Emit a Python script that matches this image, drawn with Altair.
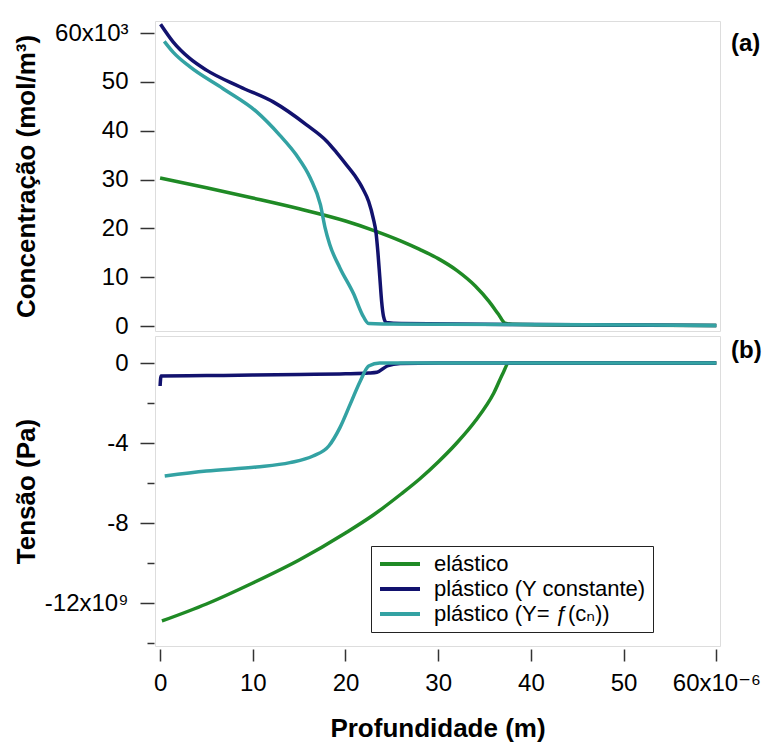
import altair as alt
import pandas as pd

FONT = "Liberation Sans, Arial, DejaVu Sans, sans-serif"

# ---------------- data ----------------
series_names = ["elástico", "plástico (Y constante)", "plástico (Y= ƒ(cₙ))"]
series_colors = ["#1f8a25", "#12126e", "#33a2a3"]
panel_labels = ["(a)", "(b)"]

x_ticks = [0, 10, 20, 30, 40, 50, 60]
conc_ticks = [0, 10, 20, 30, 40, 50, 60]
stress_ticks = [0, -2, -4, -6, -8, -10, -12, -14]

# (a) concentration, units of 10^3 mol/m3 ; depth in 10^-6 m
conc_el_x = [0.0, 5.0, 10.0, 15.0, 20.0, 23.0, 26.0, 28.0, 30.0, 32.0, 34.0, 35.5, 36.5, 37.2, 38.0, 45.0, 60.0]
conc_el_y = [30.3, 28.3, 26.2, 24.0, 21.5, 19.6, 17.4, 15.7, 13.8, 11.4, 8.2, 5.0, 2.4, 0.6, 0.35, 0.2, 0.1]

conc_pc_x = [0.05, 1.4, 3.2, 5.0, 8.6, 12.2, 15.8, 18.0, 19.0, 20.1, 21.0, 21.9, 22.5, 23.0, 23.3,
             23.5, 23.7, 23.9, 24.1, 24.4, 26.0, 40.0, 60.0]
conc_pc_y = [61.8, 58.2, 54.8, 52.4, 49.0, 45.9, 41.2, 37.8, 35.6, 33.0, 30.8, 28.0, 25.5, 22.0, 19.0,
             15.0, 10.0, 5.0, 2.0, 0.7, 0.5, 0.3, 0.1]

conc_pf_x = [0.45, 1.4, 3.2, 6.8, 10.4, 12.9, 14.7, 16.2, 17.3, 17.8, 18.3, 19.4, 20.9, 21.8, 22.5, 24.0, 40.0, 60.0]
conc_pf_y = [58.3, 56.1, 53.1, 48.6, 43.9, 39.1, 35.0, 30.3, 24.8, 20.1, 16.7, 11.9, 6.5, 2.4, 0.5, 0.4, 0.3, 0.1]

# (b) stress, units of 10^9 Pa
str_el_x = [0.2, 5.0, 10.0, 15.0, 20.0, 23.0, 26.0, 28.0, 30.0, 32.0, 34.0, 36.0, 37.0, 37.6, 40.0, 60.0]
str_el_y = [-12.9, -12.05, -11.0, -9.85, -8.5, -7.6, -6.55, -5.8, -4.95, -4.0, -2.9, -1.5, -0.5, 0.0, 0.0, 0.0]

str_pc_x = [0.0, 0.1, 5.0, 10.0, 15.0, 20.0, 22.5, 23.4, 24.5, 25.9, 30.0, 60.0]
str_pc_y = [-1.15, -0.65, -0.63, -0.6, -0.57, -0.54, -0.5, -0.46, -0.15, -0.02, 0.0, 0.0]

str_pf_x = [0.5, 5.0, 10.4, 14.0, 16.5, 18.2, 19.4, 20.5, 21.6, 22.5, 23.7, 30.0, 60.0]
str_pf_y = [-5.65, -5.4, -5.2, -4.98, -4.65, -4.15, -3.23, -2.07, -0.9, -0.15, 0.0, 0.0, 0.0]


def frame(groups):
    rows = []
    for name, xs, ys in groups:
        for i, (xv, yv) in enumerate(zip(xs, ys)):
            rows.append({"x": xv, "v": yv, "serie": name, "i": i})
    return pd.DataFrame(rows)


df_top = frame([
    (series_names[0], conc_el_x, conc_el_y),
    (series_names[1], conc_pc_x, conc_pc_y),
    (series_names[2], conc_pf_x, conc_pf_y),
])
df_bot = frame([
    (series_names[0], str_el_x, str_el_y),
    (series_names[1], str_pc_x, str_pc_y),
    (series_names[2], str_pf_x, str_pf_y),
])

W, H = 565, 310
x_scale = alt.Scale(domain=[-0.55, 60.4], nice=False, zero=False)
color_scale = alt.Scale(domain=series_names, range=series_colors)

common_axis = dict(
    grid=False, domain=False, labelFont=FONT, labelFontSize=24, labelColor="black",
    tickColor="#333", tickWidth=1.5, titleFont=FONT, titleFontSize=26,
    titleFontWeight="bold", titleColor="black", labelOverlap=False,
)

top_lines = alt.Chart(df_top).mark_line(strokeWidth=3.5, interpolate="monotone").encode(
    x=alt.X("x:Q", scale=x_scale, axis=None),
    y=alt.Y("v:Q", scale=alt.Scale(domain=[-1.02, 62.46], nice=False, zero=False),
            axis=alt.Axis(values=conc_ticks,
                          labelExpr="datum.value === 60 ? '60x10³' : datum.label",
                          title="Concentração (mol/m³)", offset=1, tickSize=14, labelPadding=12,
                          titleX=-128, titleY=H / 2, titleAngle=-90, titleAlign="center",
                          titleBaseline="middle", **common_axis)),
    color=alt.Color("serie:N", scale=color_scale, legend=None),
    order="i:Q",
)

label_style = dict(align="left", baseline="middle", font=FONT, fontSize=24,
                   fontWeight="bold", color="black")

top_label = alt.Chart(pd.DataFrame({"lab": [panel_labels[0]]})).mark_text(**label_style).encode(
    text="lab:N", x=alt.value(W + 11), y=alt.value(23)
)

top = alt.layer(top_lines, top_label).properties(width=W, height=H)

bottom_lines = alt.Chart(df_bot).mark_line(strokeWidth=3.5, interpolate="monotone").encode(
    x=alt.X("x:Q", scale=x_scale,
            axis=alt.Axis(values=x_ticks,
                          labelExpr="datum.value === 60 ? '60x10⁻⁶' : datum.label",
                          title="Profundidade (m)", offset=3, tickSize=12, labelPadding=10,
                          labelFlush=False, titlePadding=20, **common_axis)),
    y=alt.Y("v:Q", scale=alt.Scale(domain=[-14.15, 1.35], nice=False, zero=False),
            axis=alt.Axis(values=stress_ticks,
                          labelExpr="datum.value === 0 ? '0' : (datum.value % 4 === 0 ? (datum.value === -12 ? '-12x10⁹' : '-' + abs(datum.value)) : '')",
                          tickSize={"condition": {"test": "datum.value % 4 === 0", "value": 14}, "value": 7},
                          title="Tensão (Pa)", offset=1, labelPadding=12,
                          titleX=-128, titleY=H / 2, titleAngle=-90, titleAlign="center",
                          titleBaseline="middle", **common_axis)),
    color=alt.Color("serie:N", scale=color_scale,
                    legend=alt.Legend(orient="none", legendX=216, legendY=210, title=None,
                                      symbolType="stroke", symbolSize=1600, symbolStrokeWidth=4,
                                      clipHeight=22, rowPadding=3,
                                      labelFont=FONT, labelFontSize=22, labelColor="black",
                                      strokeColor="#222", fillColor="white", padding=7,
                                      labelOffset=12, labelLimit=0)),
    order="i:Q",
)

bottom_label = alt.Chart(pd.DataFrame({"lab": [panel_labels[1]]})).mark_text(**label_style).encode(
    text="lab:N", x=alt.value(W + 11), y=alt.value(15)
)

bottom = alt.layer(bottom_lines, bottom_label).properties(width=W, height=H)

chart = alt.vconcat(top, bottom, spacing=5).resolve_scale(
    color="independent", x="shared"
).properties(
    bounds="flush",
    padding={"left": 12, "top": 16, "right": 0, "bottom": 0},
).configure_view(
    stroke="#333", strokeWidth=2
).configure(
    background="white"
)

chart.save("out.html", embed_options={"renderer": "svg", "actions": False})
